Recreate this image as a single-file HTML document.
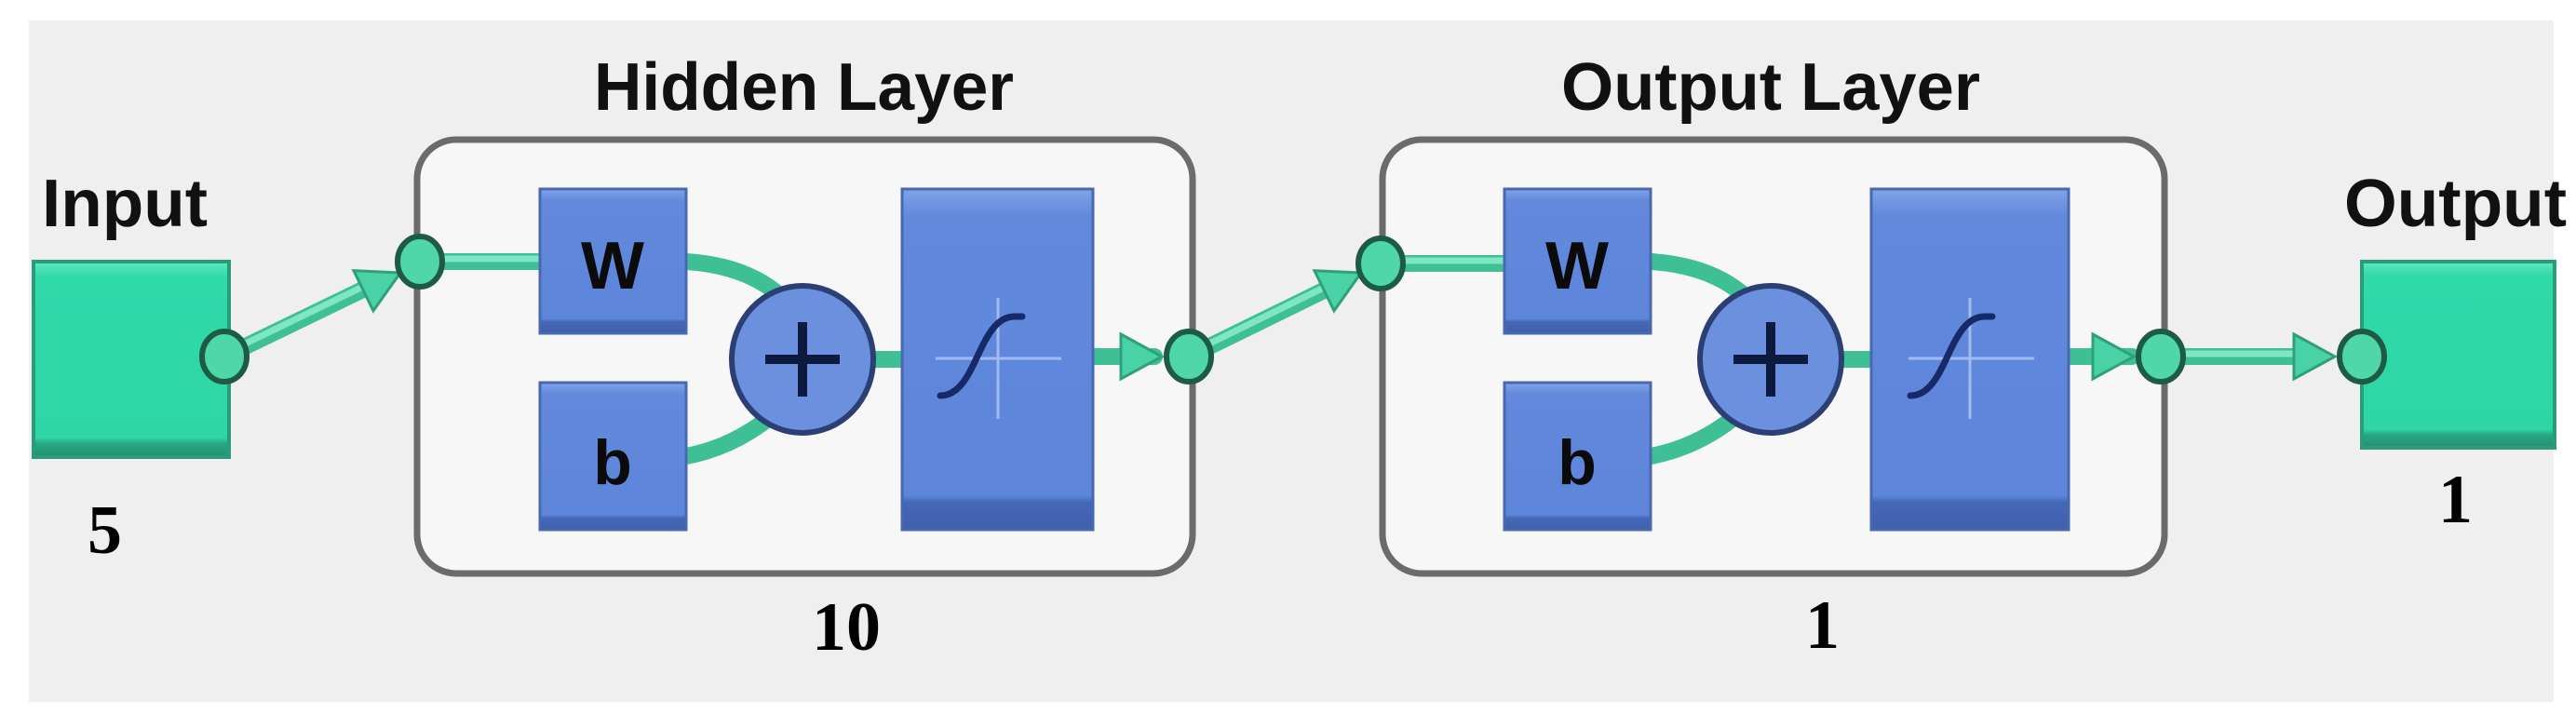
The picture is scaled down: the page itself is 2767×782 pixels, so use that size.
<!DOCTYPE html>
<html><head><meta charset="utf-8"><style>
html,body{margin:0;padding:0;background:#fff;width:2767px;height:782px;overflow:hidden}
svg{display:block}
</style></head><body>
<svg width="2767" height="782" viewBox="0 0 2767 782" xmlns="http://www.w3.org/2000/svg">
<defs>
<linearGradient id="blue" x1="0" y1="0" x2="0" y2="1"><stop offset="0" stop-color="#7fa3e8"/><stop offset="0.08" stop-color="#6289dc"/><stop offset="0.9" stop-color="#5d85da"/><stop offset="0.92" stop-color="#4467b8"/><stop offset="1" stop-color="#3f5fab"/></linearGradient>
<linearGradient id="green" x1="0" y1="0" x2="0" y2="1"><stop offset="0" stop-color="#5fe8c0"/><stop offset="0.08" stop-color="#2fd9a8"/><stop offset="0.9" stop-color="#2fd6a5"/><stop offset="0.93" stop-color="#27a985"/><stop offset="1" stop-color="#238f70"/></linearGradient>
<g id="circ"><ellipse rx="24" ry="27" fill="#4fd6a9" stroke="#1d5b45" stroke-width="6"/></g>
<g id="arrowR"><path d="M-44,-24 L0,0 L-44,24 Z" fill="#49d2a5" stroke="#2f9f7c" stroke-width="3"/></g>
</defs>
<rect x="0" y="0" width="2767" height="782" fill="#fff"/>
<rect x="31" y="22" width="2712" height="732" fill="#efefef"/>

<!-- labels top -->
<g font-family="Liberation Sans, sans-serif" font-weight="bold" fill="#111">
<text x="45" y="243" font-size="72" textLength="178" lengthAdjust="spacingAndGlyphs">Input</text>
<text x="638" y="118" font-size="72" textLength="451" lengthAdjust="spacingAndGlyphs">Hidden Layer</text>
<text x="1677" y="118" font-size="72" textLength="450" lengthAdjust="spacingAndGlyphs">Output Layer</text>
<text x="2518" y="243" font-size="72" textLength="239" lengthAdjust="spacingAndGlyphs">Output</text>
</g>
<g font-family="Liberation Serif, serif" font-weight="bold" fill="#000" font-size="74">
<text x="94" y="594">5</text>
<text x="872" y="698">10</text>
<text x="1939" y="696">1</text>
<text x="2619" y="561">1</text>
</g>

<!-- input / output boxes -->
<rect x="36" y="281" width="210" height="210" fill="url(#green)" stroke="#2a9c7b" stroke-width="4"/>
<rect x="2537" y="281" width="207" height="200" fill="url(#green)" stroke="#2a9c7b" stroke-width="4"/>

<!-- layer boxes -->
<rect x="448" y="150" width="833" height="466" rx="42" fill="#f7f7f7" stroke="#6b6b6b" stroke-width="7"/>
<rect x="1485" y="150" width="840" height="466" rx="42" fill="#f7f7f7" stroke="#6b6b6b" stroke-width="7"/>

<!-- connectors -->
<g stroke="#3fbf95" stroke-width="18" fill="none" stroke-linecap="round">
<line x1="241" y1="383" x2="400" y2="306"/>
<line x1="451" y1="281" x2="585" y2="281"/>
<path d="M737,281 C800,285 840,310 860,345"/>
<path d="M737,490 C790,480 830,450 850,425"/>
<line x1="940" y1="386" x2="975" y2="386"/>
<line x1="1174" y1="383" x2="1240" y2="383"/>
<line x1="1277" y1="383" x2="1430" y2="308"/>
<line x1="1483" y1="283" x2="1620" y2="283"/>
<path d="M1773,281 C1836,285 1876,310 1896,345"/>
<path d="M1773,490 C1826,480 1866,450 1886,425"/>
<line x1="1980" y1="386" x2="2015" y2="386"/>
<line x1="2222" y1="383" x2="2290" y2="383"/>
<line x1="2321" y1="383" x2="2490" y2="383"/>
</g>
<g stroke="#7ee6c4" stroke-width="7" fill="none" stroke-linecap="round">
<line x1="241" y1="380" x2="400" y2="303"/>
<line x1="451" y1="278" x2="585" y2="278"/>
<line x1="1277" y1="380" x2="1430" y2="305"/>
<line x1="1483" y1="280" x2="1620" y2="280"/>
<line x1="2321" y1="380" x2="2490" y2="380"/>
</g>
<use href="#arrowR" transform="translate(430,293) rotate(-26)"/>
<use href="#arrowR" transform="translate(1462,293) rotate(-26)"/>
<use href="#arrowR" transform="translate(1248,383)"/>
<use href="#arrowR" transform="translate(2292,383)"/>
<use href="#arrowR" transform="translate(2508,383)"/>

<!-- W / b / transfer boxes -->
<g font-family="Liberation Sans, sans-serif" font-weight="bold" fill="#0b0b0b">
<rect x="580" y="203" width="157" height="155" fill="url(#blue)" stroke="#4a68b0" stroke-width="3"/>
<rect x="580" y="411" width="157" height="158" fill="url(#blue)" stroke="#4a68b0" stroke-width="3"/>
<text x="658" y="310" font-size="72" text-anchor="middle">W</text>
<text x="658" y="520" font-size="68" text-anchor="middle">b</text>
<rect x="1616" y="203" width="157" height="155" fill="url(#blue)" stroke="#4a68b0" stroke-width="3"/>
<rect x="1616" y="411" width="157" height="158" fill="url(#blue)" stroke="#4a68b0" stroke-width="3"/>
<text x="1694" y="310" font-size="72" text-anchor="middle">W</text>
<text x="1694" y="520" font-size="68" text-anchor="middle">b</text>
</g>
<rect x="969" y="203" width="205" height="366" fill="url(#blue)" stroke="#4a68b0" stroke-width="3"/>
<rect x="2010" y="203" width="212" height="366" fill="url(#blue)" stroke="#4a68b0" stroke-width="3"/>
<g stroke="#9fbbef" stroke-width="3">
<line x1="1072" y1="320" x2="1072" y2="450"/><line x1="1005" y1="385" x2="1140" y2="385"/>
<line x1="2116" y1="320" x2="2116" y2="450"/><line x1="2050" y1="385" x2="2185" y2="385"/>
</g>
<g stroke="#152a66" stroke-width="7" fill="none" stroke-linecap="round">
<path d="M1010,425 C1050,425 1050,340 1090,340 L1098,340"/>
<path d="M2052,425 C2092,425 2092,340 2132,340 L2140,340"/>
</g>

<!-- summation circles -->
<g>
<ellipse cx="862" cy="386" rx="76" ry="79" fill="#6a90de" stroke="#2c3f75" stroke-width="6"/>
<path d="M862,346 V426 M822,386 H902" stroke="#0e1a40" stroke-width="10"/>
<ellipse cx="1902" cy="386" rx="76" ry="79" fill="#6a90de" stroke="#2c3f75" stroke-width="6"/>
<path d="M1902,346 V426 M1862,386 H1942" stroke="#0e1a40" stroke-width="10"/>
</g>

<!-- port circles -->
<use href="#circ" transform="translate(241,383)"/>
<use href="#circ" transform="translate(451,281)"/>
<use href="#circ" transform="translate(1277,383)"/>
<use href="#circ" transform="translate(1483,283)"/>
<use href="#circ" transform="translate(2321,383)"/>
<use href="#circ" transform="translate(2537,383)"/>
</svg>
</body></html>
